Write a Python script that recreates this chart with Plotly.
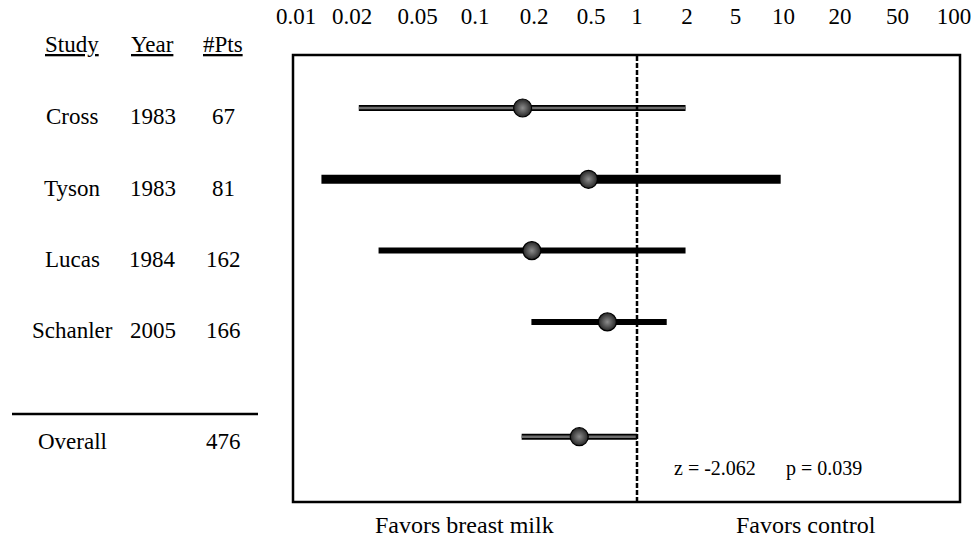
import numpy as np
import plotly.graph_objects as go

# ---------------- data ----------------
studies = ["Cross", "Tyson", "Lucas", "Schanler"]
years = ["1983", "1983", "1984", "2005"]
n_pts = [67, 81, 162, 166]
odds_ratio = [0.175, 0.48, 0.195, 0.64]
ci_low = [0.022, 0.0137, 0.029, 0.194]
ci_high = [1.96, 9.6, 1.96, 1.51]

overall_label = "Overall"
overall_pts = 476
overall_or = 0.414
overall_low = 0.173
overall_high = 1.0
z_value = -2.062
p_value = 0.039

tick_values = [0.01, 0.02, 0.05, 0.1, 0.2, 0.5, 1, 2, 5, 10, 20, 50, 100]
tick_labels = ["0.01", "0.02", "0.05", "0.1", "0.2", "0.5", "1", "2", "5", "10", "20", "50", "100"]

# ---------------- layout / style ----------------
W, H = 971, 537
FONT = "Liberation Serif, Times New Roman, serif"
# the printed axis is hand-spaced (not a true log scale): slot position of each tick label
tick_slots = [3, 59, 124.5, 182, 241, 298, 344, 394, 442.6, 490.5, 547, 604.6, 661]
X_RANGE = [0, 667]


def to_axis(v):
    return np.interp(np.log10(v), np.log10(tick_values), tick_slots)


study_rows = list(range(len(studies)))
overall_row = len(studies) - 1 + 1.61
row_styles = [  # (outer width, inner gray width or None)
    (6, 2.5), (9, None), (6, None), (6, None)
]
overall_style = (6, 2.5)

fig = go.Figure()


def add_ci(lo, hi, row, style):
    outer, inner = style
    xs = to_axis([lo, hi])
    fig.add_trace(go.Scatter(x=xs, y=[row, row], mode="lines",
                             line=dict(color="black", width=outer), hoverinfo="skip"))
    if inner:
        fig.add_trace(go.Scatter(x=xs, y=[row, row], mode="lines",
                                 line=dict(color="#6e6e6e", width=inner), hoverinfo="skip"))


for i in range(len(studies)):
    add_ci(ci_low[i], ci_high[i], study_rows[i], row_styles[i])
add_ci(overall_low, overall_high, overall_row, overall_style)

fig.add_trace(go.Scatter(
    x=to_axis(odds_ratio + [overall_or]),
    y=study_rows + [overall_row],
    mode="markers",
    marker=dict(size=18, color="#262626",
                gradient=dict(type="radial", color="#8c8c8c"),
                line=dict(color="black", width=1.2)),
    hoverinfo="skip"))

shapes = []
# box
shapes.append(dict(type="rect", xref="x domain", yref="y domain", x0=0, x1=1, y0=0, y1=1,
                   line=dict(color="black", width=2.5)))
# null line at OR = 1
shapes.append(dict(type="line", xref="x", yref="y domain", x0=float(to_axis(1)), x1=float(to_axis(1)),
                   y0=0, y1=1, line=dict(color="black", width=2.5, dash="5px,2px")))
# separator above overall
shapes.append(dict(type="line", xref="paper", yref="paper", x0=12 / W, x1=258 / W,
                   y0=1 - 414 / H, y1=1 - 414 / H, line=dict(color="black", width=2.5)))

annotations = []
col_x = [72 / W, 152.5 / W, 223 / W]
headers = ["Study", "Year", "#Pts"]
for cx, h in zip(col_x, headers):
    annotations.append(dict(text=f"<u>{h}</u>", x=cx, y=1 - 45 / H, xref="paper", yref="paper",
                            showarrow=False, xanchor="center", yanchor="middle",
                            font=dict(family=FONT, size=23, color="black")))
for i in range(len(studies)):
    for cx, t in zip(col_x, [studies[i], years[i], str(n_pts[i])]):
        annotations.append(dict(text=t, x=cx, y=study_rows[i], xref="paper", yref="y",
                                yshift=-9, showarrow=False, xanchor="center", yanchor="middle",
                                font=dict(family=FONT, size=23, color="black")))
for cx, t in [(col_x[0], overall_label), (col_x[2], str(overall_pts))]:
    annotations.append(dict(text=t, x=cx, y=overall_row, xref="paper", yref="y",
                            yshift=-5, showarrow=False, xanchor="center", yanchor="middle",
                            font=dict(family=FONT, size=23, color="black")))

annotations.append(dict(text=f"z = {z_value:.3f}", x=715 / W, y=1 - 468 / H, xref="paper", yref="paper",
                        showarrow=False, xanchor="center", yanchor="middle",
                        font=dict(family=FONT, size=20, color="black")))
annotations.append(dict(text=f"p = {p_value:.3f}", x=824 / W, y=1 - 468 / H, xref="paper", yref="paper",
                        showarrow=False, xanchor="center", yanchor="middle",
                        font=dict(family=FONT, size=20, color="black")))
annotations.append(dict(text="Favors breast milk", x=464.5 / W, y=1 - 525 / H, xref="paper", yref="paper",
                        showarrow=False, xanchor="center", yanchor="middle",
                        font=dict(family=FONT, size=24, color="black")))
annotations.append(dict(text="Favors control", x=806 / W, y=1 - 525 / H, xref="paper", yref="paper",
                        showarrow=False, xanchor="center", yanchor="middle",
                        font=dict(family=FONT, size=24, color="black")))

px_per_row = 71.3
top_px, bot_px, row0_px = 55, 502, 108
y_range = [(bot_px - row0_px) / px_per_row, (top_px - row0_px) / px_per_row]

fig.update_layout(
    template="none",
    width=W, height=H, margin=dict(l=0, r=0, t=0, b=0, pad=0, autoexpand=False),
    paper_bgcolor="white", plot_bgcolor="white", showlegend=False,
    xaxis=dict(domain=[293 / W, 960 / W], range=X_RANGE, side="top", automargin=False,
               tickvals=[float(v) for v in to_axis(tick_values)], ticktext=tick_labels,
               ticklabeloverflow="allow",
               showgrid=False, zeroline=False, showline=False,
               ticks="outside", ticklen=21, tickcolor="rgba(0,0,0,0)",
               tickfont=dict(family=FONT, size=23, color="black"), fixedrange=True),
    yaxis=dict(domain=[1 - bot_px / H, 1 - top_px / H], range=y_range, visible=False,
               automargin=False, fixedrange=True),
    shapes=shapes, annotations=annotations,
)

fig.write_html("out.html", config={"displayModeBar": False},
               post_script="document.body.style.margin='0px';document.body.style.overflow='hidden';")
